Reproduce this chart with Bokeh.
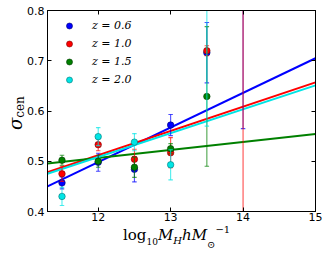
from bokeh.plotting import figure
from bokeh.models import Range1d, LinearAxis, FixedTicker, Legend, LegendItem, Div
from bokeh.layouts import row, column
from bokeh.embed import file_html
from bokeh.resources import INLINE

# ---- data ----
mass_bins = [11.5, 12.0, 12.5, 13.0, 13.5, 14.0]
sig_z06 = [0.457, 0.498, 0.484, 0.572, 0.716, 0.900]
err_z06 = [0.012, 0.018, 0.025, 0.021, 0.060, 0.335]
sig_z10 = [0.475, 0.533, 0.504, 0.517, 0.720, 0.950]
err_z10 = [0.015, 0.012, 0.020, 0.030, 0.010, 0.600]
sig_z15 = [0.502, 0.500, 0.488, 0.525, 0.629]
err_z15 = [0.010, 0.012, 0.020, 0.010, 0.139]
sig_z20 = [0.430, 0.549, 0.538, 0.493, 0.900]
err_z20 = [0.018, 0.018, 0.017, 0.030, 0.330]

fit_x = [11.3, 15.0]
fit_z06 = [0.450, 0.705]
fit_z10 = [0.478, 0.657]
fit_z15 = [0.4955, 0.554]
fit_z20 = [0.475, 0.651]

labels = ["z = 0.6", "z = 1.0", "z = 1.5", "z = 2.0"]
colors = ["#0000ff", "#ff0000", "#008000", "#00e5e5"]
edges = ["#00006e", "#7a0000", "#003a00", "#007575"]
x_ticks = [12, 13, 14, 15]
y_ticks = [0.4, 0.5, 0.6, 0.7, 0.8]

p = figure(width=303, height=225, x_range=Range1d(11.3, 15.0), y_range=Range1d(0.4, 0.8),
           output_backend="svg", toolbar_location=None,
           min_border_left=23, min_border_right=12, min_border_top=10, min_border_bottom=14)
p.xgrid.visible = False
p.ygrid.visible = False
p.outline_line_color = "black"
p.background_fill_color = "white"
p.border_fill_color = "white"

for ax in (p.xaxis[0], p.yaxis[0]):
    ax.major_tick_in = 4
    ax.major_tick_out = 0
    ax.minor_tick_in = 0
    ax.minor_tick_out = 0
    ax.axis_line_color = "black"
    ax.major_tick_line_color = "black"
    ax.major_label_text_font = "DejaVu Sans"
    ax.major_label_text_font_size = "11px"
    ax.major_label_text_color = "black"
p.xaxis.ticker = FixedTicker(ticks=x_ticks)
p.yaxis.ticker = FixedTicker(ticks=y_ticks)
p.xaxis.major_label_standoff = 1
p.yaxis.major_label_standoff = 3

for loc, tk in (("right", y_ticks), ("above", x_ticks)):
    ax = LinearAxis(ticker=FixedTicker(ticks=tk), major_tick_in=4, major_tick_out=0,
                    minor_tick_in=0, minor_tick_out=0, major_label_text_font_size="0px",
                    major_label_text_color=None, major_label_standoff=0,
                    axis_line_color="black")
    p.add_layout(ax, loc)

# fit lines
line_sets = [fit_z06, fit_z10, fit_z15, fit_z20]
for fy, c in zip(line_sets, colors):
    p.line(fit_x, fy, line_color=c, line_width=2)

series = [(sig_z06, err_z06), (sig_z10, err_z10), (sig_z15, err_z15), (sig_z20, err_z20)]
items = []
for (sig, err), c, e, lab in zip(series, colors, edges, labels):
    xs = mass_bins[:len(sig)]
    lo = [s - d for s, d in zip(sig, err)]
    hi = [s + d for s, d in zip(sig, err)]
    p.segment(x0=xs, y0=lo, x1=xs, y1=hi, line_color=c, line_alpha=0.7, line_width=1.1)
    p.scatter(xs + xs, lo + hi, marker="dash", size=4.5, line_color=c, line_alpha=0.7, line_width=1.1)
    r = p.scatter(xs, sig, size=6.5, fill_color=c, line_color=e, line_width=0.6)
    items.append(LegendItem(label=lab, renderers=[r]))

legend = Legend(items=items, location="top_left", margin=8, padding=0,
                border_line_color=None, background_fill_alpha=0,
                glyph_width=28, glyph_height=15, label_height=15, spacing=3,
                label_standoff=9, label_text_font="DejaVu Serif", label_text_color="black",
                label_text_font_style="italic", label_text_font_size="11px")
p.add_layout(legend)

# axis labels as real HTML text (with sub/superscripts)
sub = lambda t, top, fs: f'<span style="font-size:{fs}px;position:relative;top:{top}px">{t}</span>'
xlabel_html = (
    '<div style="position:relative;width:327px;height:30px;font-family:\'DejaVu Serif\';color:black">'
    '<span style="position:absolute;left:123px;top:3px;font-size:15px;line-height:1;white-space:nowrap">'
    'log' + sub('10', 5, 9) +
    '<i>M</i>' + sub('<i>H</i>', 4, 10) + '<i>hM</i>' + sub('\u2299', 8, 10) + sub('\u22121', -7, 10) +
    '</span></div>'
)
ylabel_html = (
    '<div style="position:relative;width:24px;height:225px;font-family:\'DejaVu Serif\';color:black">'
    '<span style="position:absolute;left:7px;top:130px;font-size:18px;line-height:1;white-space:nowrap;'
    'transform:rotate(-90deg);transform-origin:left top">'
    '<i>\u03c3</i>' + sub('cen', 2, 12) +
    '</span></div>'
)
xdiv = Div(text=xlabel_html, width=327, height=30, margin=0)
ydiv = Div(text=ylabel_html, width=24, height=225, margin=0)

layout = column(row(ydiv, p, spacing=0), xdiv, spacing=0)

open("out.html", "w").write(file_html(layout, INLINE))
